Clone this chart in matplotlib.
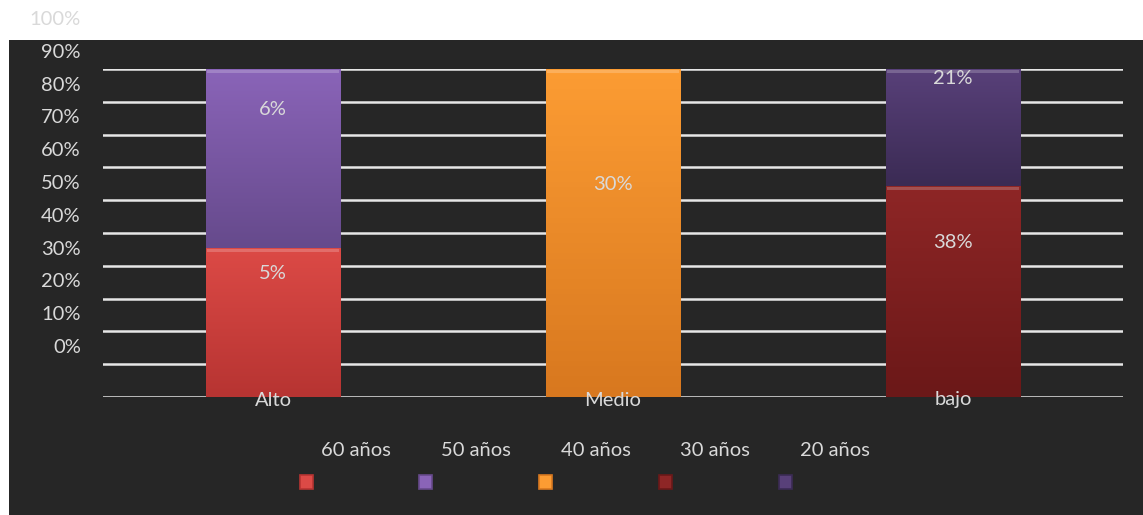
import matplotlib.pyplot as plt
import numpy as np
from matplotlib.colors import to_rgb
from matplotlib.patches import Rectangle
from matplotlib.transforms import ScaledTranslation

plt.rcParams['font.family'] = ['Lato', 'DejaVu Sans']

categories = ['Alto', 'Medio', 'bajo']
series_names = ['60 años', '50 años', '40 años', '30 años', '20 años']
# share of each age group within each level (fractions)
series_values = [
    [0.05, 0.00, 0.00],
    [0.06, 0.00, 0.00],
    [0.00, 0.30, 0.00],
    [0.00, 0.00, 0.38],
    [0.00, 0.00, 0.21],
]
series_colors = [
    ('#dc4a46', '#b73432'),
    ('#8a64b8', '#664a8c'),
    ('#fc9c33', '#d8781f'),
    ('#8e2626', '#6b1818'),
    ('#584079', '#3b2b54'),
]
ytick_values = np.arange(0, 1.01, 0.1)

BG = '#262626'
TXT = '#d9d9d9'
FS = 14.5

fig = plt.figure(figsize=(11.43, 5.15), dpi=100)
fig.patches.append(Rectangle((9 / 1143, 0), 1 - 9 / 1143, 475 / 515,
                             transform=fig.transFigure, facecolor=BG,
                             edgecolor='none', zorder=-5))

ax = fig.add_axes([103 / 1143, 1 - 397 / 515, 1020 / 1143, 328 / 515])
ax.set_facecolor('none')
for s in ax.spines.values():
    s.set_visible(False)

values = np.array(series_values)
totals = values.sum(axis=0)
shares = values / totals

x = np.arange(len(categories))
width = 0.397
bottom = np.zeros(len(categories))
grad = np.linspace(1, 0, 64).reshape(-1, 1, 1)

for k, name in enumerate(series_names):
    top_c, bot_c = series_colors[k]
    bars = ax.bar(x, shares[k], width, bottom=bottom, color=bot_c,
                  edgecolor='#1a1a1a', linewidth=0.6, zorder=3)
    c1 = np.array(to_rgb(top_c))
    c2 = np.array(to_rgb(bot_c))
    img = grad * c1 + (1 - grad) * c2
    for i, bar in enumerate(bars):
        if shares[k][i] == 0:
            continue
        # vertical shading inside each segment
        im = ax.imshow(img, extent=[bar.get_x(), bar.get_x() + width,
                                    bottom[i], bottom[i] + shares[k][i]],
                       aspect='auto', zorder=3.5, origin='upper')
        im.set_clip_path(bar)
        # lighter top rim
        ax.add_patch(Rectangle((bar.get_x() + 0.004, bottom[i] + shares[k][i] - 0.013),
                               width - 0.008, 0.01, facecolor='white',
                               alpha=0.2, edgecolor='none', zorder=4))
        ax.annotate(f'{values[k][i] * 100:.0f}%',
                    (x[i], bottom[i] + shares[k][i] / 2),
                    xytext=(0, 49), textcoords='offset pixels',
                    ha='center', va='center', color=TXT, fontsize=FS, zorder=5)
    bottom += shares[k]

ax.set_xlim(-0.5, 2.5)
ax.set_ylim(0, 1)
ax.set_yticks(ytick_values)
ax.set_yticklabels([f'{v * 100:.0f}%' for v in ytick_values])
ax.yaxis.grid(True, color='#e6e6e6', linewidth=1.8, zorder=1)
ax.set_axisbelow(True)
ax.tick_params(axis='y', length=0, pad=16, labelsize=FS, labelcolor=TXT)
shift = ScaledTranslation(0, 51 / 100, fig.dpi_scale_trans)
for lab in ax.get_yticklabels():
    lab.set_transform(lab.get_transform() + shift)

ax.set_xticks([])
for i, cat in enumerate(categories):
    ax.annotate(cat, (x[i], 0), xytext=(0, -3), textcoords='offset pixels',
                ha='center', va='center', color=TXT, fontsize=FS, zorder=6)

# legend: names on one row, colour swatches below
for k, name in enumerate(series_names):
    cx = (356 + 119.8 * k) / 1143
    fig.text(cx, 1 - 450 / 515, name, ha='center', va='center',
             color=TXT, fontsize=FS)
    sx = (306 + 119.8 * k) / 1143
    fig.patches.append(Rectangle((sx - 6.5 / 1143, 1 - 489 / 515), 13 / 1143, 14 / 515,
                                 transform=fig.transFigure,
                                 facecolor=series_colors[k][0],
                                 edgecolor=series_colors[k][1], linewidth=1.2,
                                 zorder=2))

fig.savefig('out.png', dpi=100)
